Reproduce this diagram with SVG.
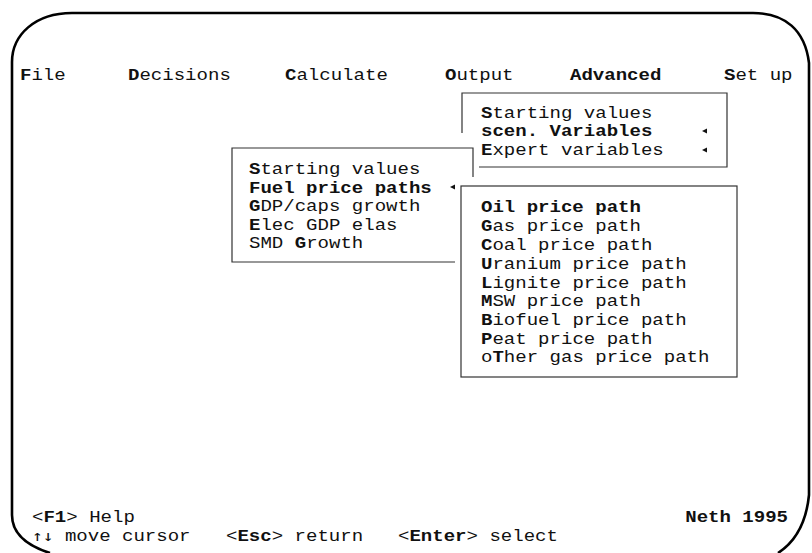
<svg xmlns="http://www.w3.org/2000/svg" width="812" height="553" viewBox="0 0 812 553">
<style>
text{font-family:"Liberation Mono","Courier New",monospace;font-size:16px;fill:#111}
.b{font-weight:bold}
.arr{font-family:"DejaVu Sans Mono",monospace;font-size:15px}
.box{fill:none;stroke:#333;stroke-width:1.2}
.frame{fill:none;stroke:#000;stroke-width:2.6}
.tri{fill:#111}
</style>
<rect width="812" height="553" fill="#fff"/>
<path class="frame" d="M 50 553 C 28 546 12 535 12 515 L 12 62 C 12 35 35 13 72 13 L 753 13 C 785 13 805 30 809 63 L 809 495 C 806 525 795 542 778 553"/>
<g id="menubar">
<text transform="translate(20 80) scale(1.19 1)"><tspan class="b">F</tspan>ile</text>
<text transform="translate(128 80) scale(1.19 1)"><tspan class="b">D</tspan>ecisions</text>
<text transform="translate(285 80) scale(1.19 1)"><tspan class="b">C</tspan>alculate</text>
<text transform="translate(445 80) scale(1.19 1)"><tspan class="b">O</tspan>utput</text>
<text transform="translate(570 80) scale(1.19 1)" class="b">Advanced</text>
<text transform="translate(724 80) scale(1.19 1)"><tspan class="b">S</tspan>et up</text>
</g>
<g id="advanced-menu">
<path class="box" d="M 462 133 L 462 93 L 727 93 L 727 167 L 479 167"/>
<text transform="translate(481 118) scale(1.19 1)"><tspan class="b">S</tspan>tarting values</text>
<text transform="translate(481 136) scale(1.19 1)" class="b">scen. Variables</text>
<text transform="translate(481 155) scale(1.19 1)"><tspan class="b">E</tspan>xpert variables</text>
<polygon class="tri" points="702,131 707,128.5 707,133.5"/>
<polygon class="tri" points="702,150 707,147.5 707,152.5"/>
</g>
<g id="scen-menu">
<path class="box" d="M 473 177 L 473 148 L 232 148 L 232 262 L 455 262"/>
<text transform="translate(249 174) scale(1.19 1)"><tspan class="b">S</tspan>tarting values</text>
<text transform="translate(249 193) scale(1.19 1)" class="b">Fuel price paths</text>
<text transform="translate(249 211) scale(1.19 1)"><tspan class="b">G</tspan>DP/caps growth</text>
<text transform="translate(249 230) scale(1.19 1)"><tspan class="b">E</tspan>lec GDP elas</text>
<text transform="translate(249 248) scale(1.19 1)">SMD <tspan class="b">G</tspan>rowth</text>
<polygon class="tri" points="450,187 455,184.5 455,189.5"/>
</g>
<g id="fuel-menu">
<rect class="box" x="461" y="186" width="276" height="191"/>
<text transform="translate(481 212) scale(1.19 1)" class="b">Oil price path</text>
<text transform="translate(481 231) scale(1.19 1)"><tspan class="b">G</tspan>as price path</text>
<text transform="translate(481 250) scale(1.19 1)"><tspan class="b">C</tspan>oal price path</text>
<text transform="translate(481 269) scale(1.19 1)"><tspan class="b">U</tspan>ranium price path</text>
<text transform="translate(481 288) scale(1.19 1)"><tspan class="b">L</tspan>ignite price path</text>
<text transform="translate(481 306) scale(1.19 1)"><tspan class="b">M</tspan>SW price path</text>
<text transform="translate(481 325) scale(1.19 1)"><tspan class="b">B</tspan>iofuel price path</text>
<text transform="translate(481 344) scale(1.19 1)"><tspan class="b">P</tspan>eat price path</text>
<text transform="translate(481 362) scale(1.19 1)">o<tspan class="b">T</tspan>her gas price path</text>
</g>
<g id="statusbar">
<text transform="translate(32 522) scale(1.19 1)">&lt;<tspan class="b">F1</tspan>&gt; Help</text>
<text transform="translate(32 541) scale(1.19 1)"><tspan class="arr">↑↓</tspan> move cursor</text>
<text transform="translate(226 541) scale(1.19 1)">&lt;<tspan class="b">Esc</tspan>&gt; return</text>
<text transform="translate(398 541) scale(1.19 1)">&lt;<tspan class="b">Enter</tspan>&gt; select</text>
<text transform="translate(788 522) scale(1.19 1)" class="b" text-anchor="end">Neth 1995</text>
</g>
</svg>
